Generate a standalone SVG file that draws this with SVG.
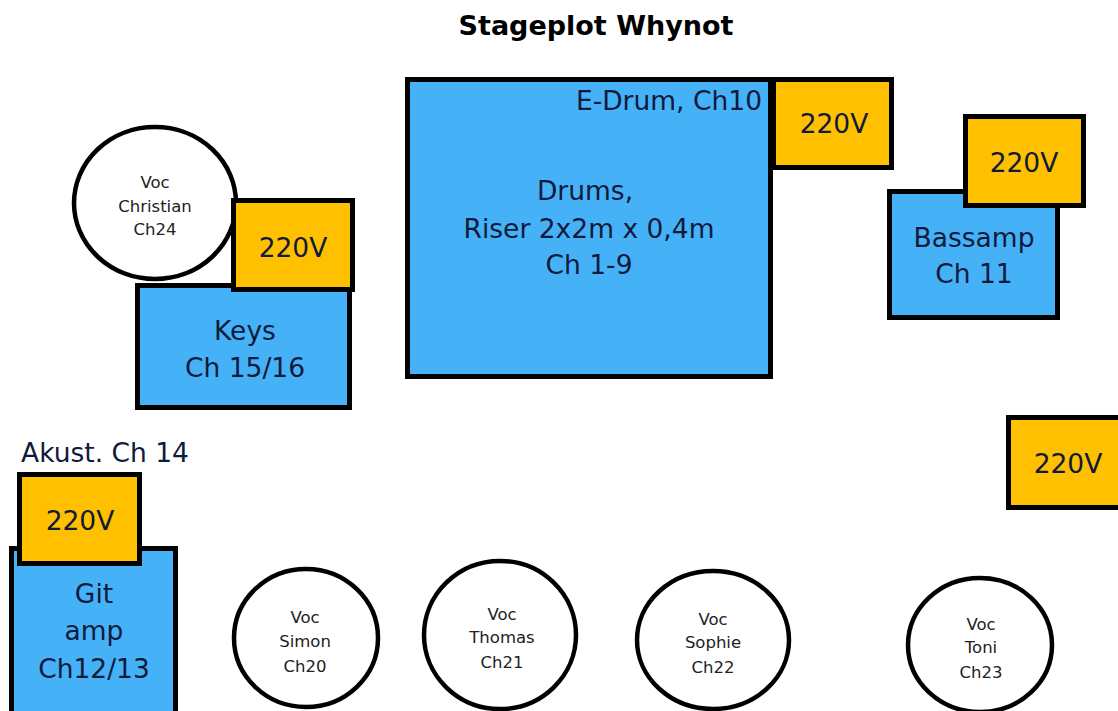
<svg xmlns="http://www.w3.org/2000/svg" width="1118" height="711" viewBox="0 0 1118 711">
<style>
.box{stroke:#000;stroke-width:5}
.blue{fill:#45B1F7}
.orange{fill:#FFC000}
.voc{fill:#fff;stroke:#000;stroke-width:4.5}
text{font-family:"DejaVu Sans","Liberation Sans",sans-serif;fill:#101a3a;text-anchor:middle}
.big{font-size:26.5px}
.small{font-size:16.5px;fill:#222}
.title{font-size:27px;font-weight:bold;fill:#000}
</style>
<rect width="1118" height="711" fill="#fff"/>
<text class="title" x="596" y="35">Stageplot Whynot</text>
<g id="connectors"/>
<g id="drums">
<rect class="box blue" x="407.5" y="79.5" width="363" height="297"/>
<text class="big" x="762" y="110" style="text-anchor:end">E-Drum, Ch10</text>
<text class="big" x="585" y="200">Drums,</text>
<text class="big" x="589" y="238">Riser 2x2m x 0,4m</text>
<text class="big" x="589" y="274">Ch 1-9</text>
</g>
<g id="power-drums">
<rect class="box orange" x="773.5" y="79.5" width="118" height="88"/>
<text class="big" x="834" y="133">220V</text>
</g>
<g id="bassamp">
<rect class="box blue" x="889.5" y="191.5" width="168" height="126"/>
<text class="big" x="974" y="247">Bassamp</text>
<text class="big" x="974" y="283">Ch 11</text>
</g>
<g id="power-bass">
<rect class="box orange" x="965.5" y="116.5" width="118" height="89"/>
<text class="big" x="1024" y="172">220V</text>
</g>
<g id="power-right">
<rect class="box orange" x="1008.5" y="417.5" width="120" height="90"/>
<text class="big" x="1068" y="473">220V</text>
</g>
<g id="keys">
<rect class="box blue" x="137.5" y="285.5" width="212" height="122"/>
<text class="big" x="245" y="340">Keys</text>
<text class="big" x="245" y="377">Ch 15/16</text>
</g>
<g id="voc-christian">
<ellipse class="voc" cx="155" cy="203" rx="81" ry="76"/>
<text class="small" x="155" y="188">Voc</text>
<text class="small" x="155" y="212">Christian</text>
<text class="small" x="155" y="235">Ch24</text>
</g>
<g id="power-keys">
<rect class="box orange" x="233.5" y="200.5" width="119" height="89"/>
<text class="big" x="293" y="257">220V</text>
</g>
<g id="akust">
<text class="big" x="21" y="462" style="text-anchor:start">Akust. Ch 14</text>
</g>
<g id="gitamp">
<rect class="box blue" x="11.5" y="548.5" width="164" height="170"/>
<text class="big" x="94" y="603">Git</text>
<text class="big" x="94" y="640">amp</text>
<text class="big" x="94" y="678">Ch12/13</text>
</g>
<g id="power-git">
<rect class="box orange" x="19.5" y="474.5" width="120" height="89"/>
<text class="big" x="80" y="530">220V</text>
</g>
<g id="voc-simon">
<ellipse class="voc" cx="306" cy="638" rx="72" ry="69"/>
<text class="small" x="305" y="623">Voc</text>
<text class="small" x="305" y="647">Simon</text>
<text class="small" x="305" y="672">Ch20</text>
</g>
<g id="voc-thomas">
<ellipse class="voc" cx="500" cy="635" rx="76" ry="74"/>
<text class="small" x="502" y="620">Voc</text>
<text class="small" x="502" y="643">Thomas</text>
<text class="small" x="502" y="668">Ch21</text>
</g>
<g id="voc-sophie">
<ellipse class="voc" cx="713" cy="640" rx="76" ry="69"/>
<text class="small" x="713" y="625">Voc</text>
<text class="small" x="713" y="648">Sophie</text>
<text class="small" x="713" y="673">Ch22</text>
</g>
<g id="voc-toni">
<ellipse class="voc" cx="980" cy="645" rx="72" ry="67"/>
<text class="small" x="981" y="630">Voc</text>
<text class="small" x="981" y="653">Toni</text>
<text class="small" x="981" y="678">Ch23</text>
</g>
</svg>
